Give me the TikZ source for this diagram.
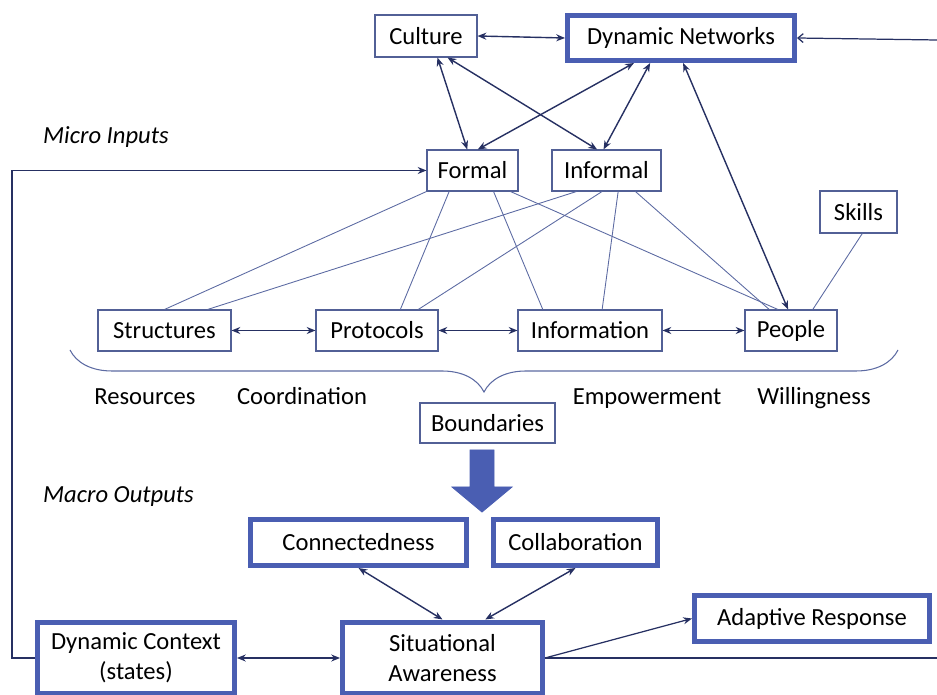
\documentclass[tikz,border=0pt]{standalone}
\usepackage{fontspec}
\setmainfont{Carlito}
\usetikzlibrary{arrows.meta,decorations.pathreplacing}

\definecolor{navy}{RGB}{38,48,98}
\definecolor{spokeblue}{RGB}{92,106,162}
\definecolor{boxgray}{RGB}{82,96,150}
\definecolor{boxblue}{RGB}{74,94,178}

\begin{document}
\begin{tikzpicture}[
        x = 0.02cm, y = -0.02cm,
        font = \fontsize{14}{17}\selectfont,
        box/.style = {draw=boxgray, line width=0.6pt, inner sep=0pt, minimum height=0.82cm},
        bigbox/.style = {draw=boxblue, line width=0.1cm, inner sep=0pt, minimum height=0.92cm},
        label/.style = {anchor=base, inner sep=0pt},
        link/.style = {navy, line width=0.8pt, {Stealth[length=5pt,width=4pt]}-{Stealth[length=5pt,width=4pt]}},
        feed/.style = {navy, line width=0.7pt},
        spoke/.style = {spokeblue, line width=0.5pt}
    ]

    \useasboundingbox (0,0) rectangle (937,695);

    % upper level
    \node[box, minimum width=2.04cm, minimum height=0.84cm] (culture) at (426,36) {Culture};
    \node[bigbox, minimum width=4.54cm, minimum height=0.9cm] (dynnet) at (681,38) {Dynamic Networks};

    \node[anchor=west, font=\fontsize{14}{17}\selectfont\itshape] (micro) at (37,137) {Micro Inputs};

    \node[box, minimum width=1.82cm] (formal) at (472.5,170.5) {Formal};
    \node[box, minimum width=2.18cm] (informal) at (606.5,170.5) {Informal};
    \node[box, minimum width=1.54cm, minimum height=0.84cm] (skills) at (858.5,212) {Skills};

    % resources row
    \node[box, minimum width=2.66cm] (structures) at (164.5,330.5) {Structures};
    \node[box, minimum width=2.44cm] (protocols) at (377,330.5) {Protocols};
    \node[box, minimum width=2.88cm] (information) at (590,330.5) {Information};
    \node[box, minimum width=1.84cm] (people) at (791,330.5) {People};

    \draw[spokeblue, line width=0.6pt, decorate, decoration={brace, mirror, amplitude=0.84cm}]
        (70,350) -- (898,350);

    \node[label] (resources) at (145,405) {Resources};
    \node[label] (coordination) at (302,405) {Coordination};
    \node[label] (empowerment) at (647,405) {Empowerment};
    \node[label] (willingness) at (814,405) {Willingness};

    \node[box, minimum width=2.7cm, minimum height=0.8cm] (boundaries) at (487.5,423) {Boundaries};

    \draw[boxblue, fill=boxblue, line width=0.5pt]
        (470,450) -- (494,450) -- (494,487) -- (512,487) -- (482,512) -- (452,487) -- (470,487) -- cycle;

    % lower level
    \node[anchor=west, font=\fontsize{14}{17}\selectfont\itshape] (macro) at (37,497) {Macro Outputs};

    \node[bigbox, minimum width=4.32cm] (connect) at (358.5,542.5) {Connectedness};
    \node[bigbox, minimum width=3.28cm] (collab) at (575.5,542.5) {Collaboration};
    \node[bigbox, minimum width=4.7cm] (adaptive) at (812,618.5) {Adaptive Response};
    \node[bigbox, minimum width=3.94cm, minimum height=1.44cm, align=center] (context) at (136,658) {Dynamic Context\\(states)};
    \node[bigbox, minimum width=4.0cm, minimum height=1.44cm, align=center] (awareness) at (442.5,658) {Situational\\Awareness};

    \coordinate (rimlow) at (937,658);
    \coordinate (rimhigh) at (937,40);

    % arrows
    \draw[link] (culture.east) -- (dynnet.west);
    \draw[link] (culture.-62) -- (formal.104);
    \draw[link] (culture.-45) -- (informal.114);
    \draw[link] (dynnet.-152) -- (formal.76);
    \draw[link] (dynnet.-141) -- (informal.98);
    \draw[link] (dynnet.-85) -- (people.98);

    \draw[link] (structures) -- (protocols);
    \draw[link] (protocols) -- (information);
    \draw[link] (information) -- (people);

    \foreach \s/\e in {formal.south west/structures.north, formal.-138/protocols.42,
                       formal.-45/information.156, formal.-29/people.122,
                       informal.-145/structures.26, informal.-102/protocols.27,
                       informal.-61/information.60, informal.-36/people.136,
                       skills.-80/people.44} {
        \draw[spoke] (\s) -- (\e);
    }

    \draw[link] (connect.south) -- (awareness.north);
    \draw[link] (collab.south) -- (awareness.42);
    \draw[link] (context) -- (awareness);
    \draw[feed, -{Stealth[length=5pt,width=4pt]}] (awareness.east) -- (adaptive.west);

    % feedback loops
    \draw[feed, -{Stealth[length=5pt,width=4pt]}] (context.west) -- ([xshift=-0.46cm]context.west) |- (formal.west);
    \draw[feed] (awareness.east) -- (awareness.east -| rimlow);
    \draw[feed, -{Straight Barb[length=3pt,width=5pt]}] (rimhigh) -- (dynnet.east);

\end{tikzpicture}
\end{document}
